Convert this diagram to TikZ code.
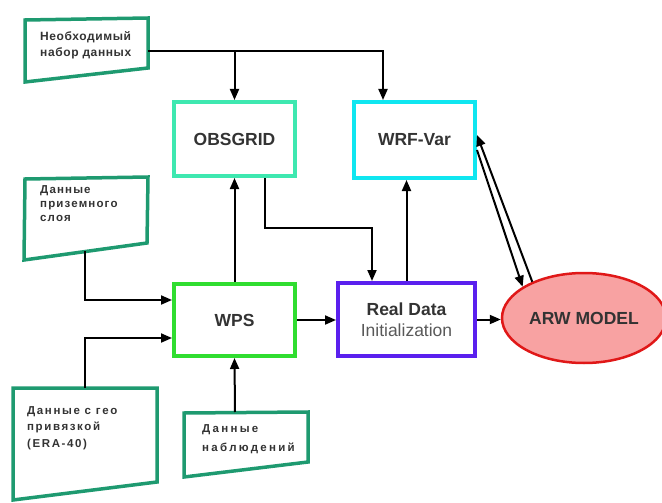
\documentclass[tikz,border=0pt]{standalone}
\usepackage{fontspec}
\setmainfont{Liberation Sans}
\usetikzlibrary{arrows.meta,shapes.geometric}
\definecolor{inpgreen}{HTML}{1E9A70}
\definecolor{obscol}{HTML}{3EE8B0}
\definecolor{wrfcol}{HTML}{10E6F0}
\definecolor{wpscol}{HTML}{30DD30}
\definecolor{rdcol}{HTML}{5A20EE}
\definecolor{arwfill}{HTML}{F8A2A2}
\definecolor{arwline}{HTML}{E01818}
\definecolor{txt}{HTML}{333333}
\tikzset{
  procbox/.style={draw, line width=4pt, rectangle, inner sep=0pt, text=txt,
    font=\fontsize{17.5}{20}\selectfont\bfseries},
  inpshape/.style={draw=inpgreen, line width=3.5pt, line join=miter},
  inptext/.style={anchor=north west, align=left, inner sep=0pt, text=txt},
  conn/.style={line width=2pt, -{Triangle[length=11pt,width=9pt]}},
  plain/.style={line width=2pt}
}
\begin{document}
\begin{tikzpicture}[x=1pt,y=-1pt]
\useasboundingbox (0,0) rectangle (662,503);
% input shapes
\draw[inpshape] (25,20) -- (148,18) -- (148,68) -- (25,82) -- cycle;
\draw[inpshape] (25,179) -- (148,177) -- (147,243) -- (24,260) -- cycle;
\draw[inpshape] (13,388) -- (157,388) -- (157,482) -- (13,500) -- cycle;
\draw[inpshape] (184,413) -- (308,412) -- (308,462) -- (184,477) -- cycle;
\node[inptext, font=\fontsize{12}{16.5}\selectfont\bfseries\addfontfeature{LetterSpace=5}] (t1) at (40,31) {Необходимый\\набор данных};
\node[inptext, font=\fontsize{11.5}{14}\selectfont\bfseries\addfontfeature{LetterSpace=10}] (t2) at (40,185) {Данные\\приземного\\слоя};
\node[inptext, font=\fontsize{11.5}{16.5}\selectfont\bfseries\addfontfeature{LetterSpace=14}] (t3) at (27,406) {Данные с гео\\привязкой\\(ERA-40)};
\node[inptext, font=\fontsize{11.5}{19.5}\selectfont\bfseries\addfontfeature{LetterSpace=20}] (t4) at (202,424) {Данные\\наблюдений};
\coordinate (n1r) at (148,51);
\coordinate (n2b) at (85,251);
\coordinate (n3t) at (85,388);
\coordinate (n4t) at (235,412);
% process boxes
\node[procbox, draw=obscol, minimum width=121pt, minimum height=74pt] (obs) at (234.5,139) {OBSGRID};
\node[procbox, draw=wrfcol, minimum width=121pt, minimum height=76pt] (wrf) at (414.5,140) {WRF-Var};
\node[procbox, draw=wpscol, minimum width=121pt, minimum height=72pt] (wps) at (234.5,320) {WPS};
\node[procbox, draw=rdcol, minimum width=137pt, minimum height=73pt, align=center] (rd) at (406.5,319.5)
  {Real Data\\[1pt]{\fontsize{17.5}{20}\selectfont\mdseries\color{black!65}Initialization}};
\node[draw=arwline, fill=arwfill, line width=2.5pt, ellipse, minimum width=164pt, minimum height=90pt,
  inner sep=0pt, text=black!80, font=\fontsize{17.5}{20}\selectfont\bfseries] (arw) at (584,318) {ARW MODEL};
% connectors
\draw[conn] (n1r) -| ([xshift=-31.5pt]wrf.north);
\draw[conn] (obs.north |- n1r) -- (obs.north);
\draw[conn] (wps.north) -- (obs.south);
\draw[conn] ([xshift=30.5pt]obs.south) -- ++(0,50) -| ([xshift=-34.5pt]rd.north);
\draw[conn] (rd.north) -- (rd.north |- wrf.south);
\draw[conn] (n2b) |- ([yshift=20pt]wps.west);
\draw[conn] (n3t) |- ([yshift=-18pt]wps.west);
\draw[conn] (n4t) -- (wps.south);
\draw[conn] (wps.east) -- (wps.east -| rd.west);
\draw[conn] (rd.east) -- (rd.east -| arw.west);
\draw[conn] ([yshift=-10pt]wrf.east) -- (arw.153);
\draw[conn] (arw.145) -- ([yshift=5pt]wrf.east);
\end{tikzpicture}
\end{document}
